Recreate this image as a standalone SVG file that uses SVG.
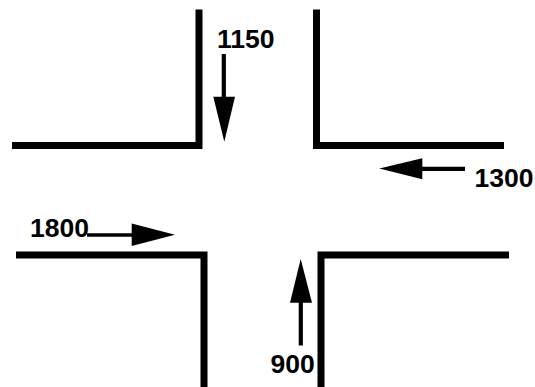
<svg xmlns="http://www.w3.org/2000/svg" width="535" height="387" viewBox="0 0 535 387">
<style>
.wall{fill:none;stroke:#000;stroke-width:7;stroke-linejoin:miter;stroke-linecap:butt}
.shaft{stroke:#000;stroke-width:4.2;stroke-linecap:butt}
.head{fill:#000;stroke:none}
.lbl{font-family:"Liberation Sans",Arial,sans-serif;font-weight:bold;font-size:26.5px;fill:#000}
</style>
<rect width="535" height="387" fill="#fff"/>
<g id="walls">
<path id="wall-nw" class="wall" d="M12 145.5 H199 V9.5"/>
<path id="wall-ne" class="wall" d="M316.5 9.5 V145.5 H504"/>
<path id="wall-sw" class="wall" d="M16 255 H204 V387"/>
<path id="wall-se" class="wall" d="M509 255 H321 V387"/>
</g>
<g id="connectors">
<line class="shaft" x1="223.8" y1="54" x2="223.8" y2="98"/>
<polygon class="head" points="213.3,96.7 235,96.7 224.3,141.7"/>
<line class="shaft" x1="465" y1="168.8" x2="421" y2="168.8"/>
<polygon class="head" points="422.3,158.3 422.3,179.3 379.3,168.5"/>
<line class="shaft" x1="87" y1="235" x2="133" y2="235" style="stroke-width:3.6"/>
<polygon class="head" points="131.7,223.5 131.7,246 175,234.8"/>
<line class="shaft" x1="300.8" y1="345.5" x2="300.8" y2="301"/>
<polygon class="head" points="290,302.7 312,302.7 300.7,259"/>
</g>
<g id="label-1150"><text class="lbl" x="217" y="47.5">1150</text></g>
<g id="label-1300"><text class="lbl" x="474.5" y="187.3">1300</text></g>
<g id="label-1800"><text class="lbl" x="30" y="237.3">1800</text></g>
<g id="label-900"><text class="lbl" x="270.5" y="372.5">900</text></g>
</svg>
